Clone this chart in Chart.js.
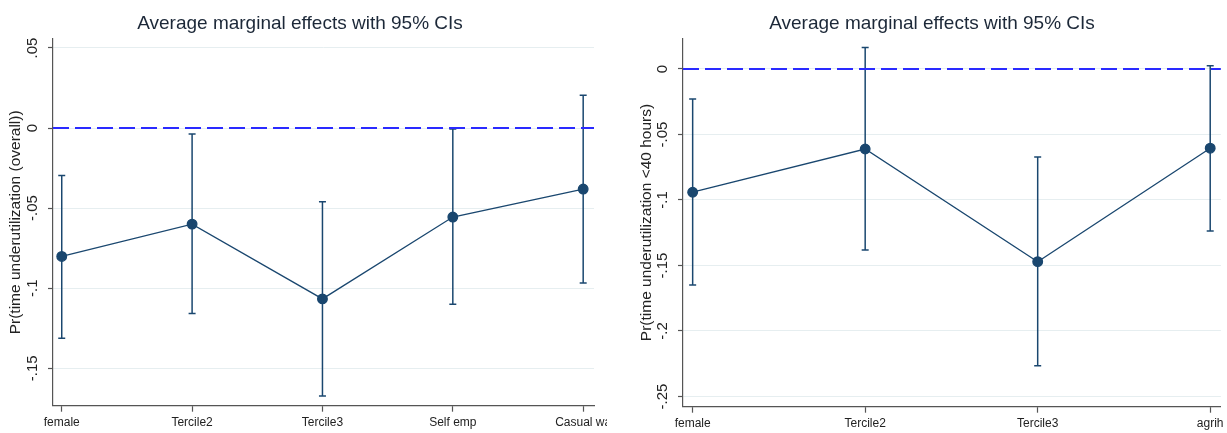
<!DOCTYPE html>
<html>
<head>
<meta charset="utf-8">
<script src="https://cdn.jsdelivr.net/npm/chart.js@4.4.1/dist/chart.umd.min.js"></script>
<style>
  html, body { margin: 0; padding: 0; background: #fff; overflow: hidden; }
  #left { position: absolute; left: 0; top: 0; }
  #right { position: absolute; left: 630px; top: 0; }
</style>
</head>
<body>
<canvas id="left" width="607" height="433"></canvas>
<canvas id="right" width="597" height="433"></canvas>
<script>
// left panel: overall underutilization
const leftCats = ['female', 'Tercile2', 'Tercile3', 'Self emp', 'Casual wa'];
const leftEst = [-0.0802, -0.0600, -0.1067, -0.0556, -0.0381];
const leftLo = [-0.1313, -0.1159, -0.1673, -0.1100, -0.0967];
const leftHi = [-0.0296, -0.0038, -0.0460, -0.0006, 0.0204];
const leftTicks = [-0.15, -0.1, -0.05, 0, 0.05];
const leftTickLabels = ['-.15', '-.1', '-.05', '0', '.05'];

// right panel: underutilization <40 hours
const rightCats = ['female', 'Tercile2', 'Tercile3', 'agrih'];
const rightEst = [-0.0941, -0.0611, -0.1471, -0.0605];
const rightLo = [-0.1649, -0.1382, -0.2265, -0.1237];
const rightHi = [-0.0229, 0.0163, -0.0672, 0.0025];
const rightTicks = [-0.25, -0.2, -0.15, -0.1, -0.05, 0];
const rightTickLabels = ['-.25', '-.2', '-.15', '-.1', '-.05', '0'];

const FONT = "'Liberation Sans', Arial, sans-serif";
const NAVY = '#1a476f';
const AXIS = '#555555';

function panel(id, p) {
  const est = p.est.map((v, i) => ({ x: i, y: v }));
  const ci = [];
  p.lo.forEach((v, i) => {
    ci.push({ x: i, y: v }, { x: i, y: p.hi[i] }, { x: i, y: null });
  });

  new Chart(document.getElementById(id), {
    type: 'line',
    data: {
      datasets: [
        {
          data: [{ x: p.xMin, y: 0 }, { x: p.xMax, y: 0 }],
          borderColor: '#2a2aff',
          borderWidth: 2,
          borderDash: [16, 6],
          pointRadius: 0
        },
        {
          data: ci,
          borderColor: NAVY,
          borderWidth: 1.5,
          pointStyle: 'line',
          pointRadius: 3.5,
          pointBorderWidth: 1.5,
          pointBorderColor: NAVY,
          spanGaps: false
        },
        {
          data: est,
          borderColor: NAVY,
          borderWidth: 1.3,
          pointRadius: 4.8,
          pointBackgroundColor: NAVY,
          pointBorderColor: NAVY
        }
      ]
    },
    options: {
      responsive: false,
      animation: false,
      devicePixelRatio: 1,
      layout: { padding: { left: p.padL, right: p.padR, top: 0, bottom: 0 } },
      plugins: {
        legend: { display: false },
        tooltip: { enabled: false },
        title: {
          display: true,
          text: 'Average marginal effects with 95% CIs',
          color: '#1c2838',
          font: { family: FONT, size: 19, weight: 'normal' },
          padding: { top: 12.6, bottom: p.titleBottom }
        }
      },
      scales: {
        x: {
          type: 'linear',
          min: p.xMin,
          max: p.xMax,
          afterBuildTicks: s => { s.ticks = p.cats.map((_, i) => ({ value: i })); },
          afterFit: s => { s.height = p.xAxisH; s.paddingLeft = 0; s.paddingRight = 0; },
          ticks: {
            autoSkip: false,
            maxRotation: 0,
            padding: 4,
            color: '#222',
            font: { family: FONT, size: 12 },
            callback: v => p.cats[v]
          },
          grid: { drawOnChartArea: false, drawTicks: true, tickLength: 6, tickColor: AXIS, tickWidth: 1.2 },
          border: { color: AXIS, width: 1.2 }
        },
        y: {
          min: p.yMin,
          max: p.yMax,
          afterBuildTicks: s => { s.ticks = p.yTicks.map(v => ({ value: v })); },
          afterFit: s => { s.width = p.yAxisW; s.paddingTop = 0; s.paddingBottom = 0; },
          ticks: {
            minRotation: 90,
            maxRotation: 90,
            crossAlign: 'center',
            padding: 2,
            color: '#222',
            font: { family: FONT, size: 15 },
            callback: v => p.yTickLabels[p.yTicks.indexOf(v)]
          },
          grid: { color: '#e6eef0', lineWidth: 1, drawTicks: true, tickLength: 5, tickColor: AXIS, tickWidth: 1.2 },
          border: { color: AXIS, width: 1.2 },
          title: {
            display: true,
            text: p.yTitle,
            color: '#222',
            font: { family: FONT, size: 15.5 },
            padding: { top: 0, bottom: 0 }
          }
        }
      }
    }
  });
}

panel('left', {
  cats: leftCats, est: leftEst, lo: leftLo, hi: leftHi,
  yTicks: leftTicks, yTickLabels: leftTickLabels,
  yMin: -0.1734, yMax: 0.0556, xMin: -0.067, xMax: 4.083,
  yTitle: 'Pr(time underutilization (overall))',
  padL: 6, padR: 13, yAxisW: 47, xAxisH: 27.3, titleBottom: 3.6
});

panel('right', {
  cats: rightCats, est: rightEst, lo: rightLo, hi: rightHi,
  yTicks: rightTicks, yTickLabels: rightTickLabels,
  yMin: -0.2578, yMax: 0.0234, xMin: -0.056, xMax: 3.062,
  yTitle: 'Pr(time underutilization <40 hours)',
  padL: 7, padR: 0, yAxisW: 46, xAxisH: 26.3, titleBottom: 2.9
});
</script>
</body>
</html>
